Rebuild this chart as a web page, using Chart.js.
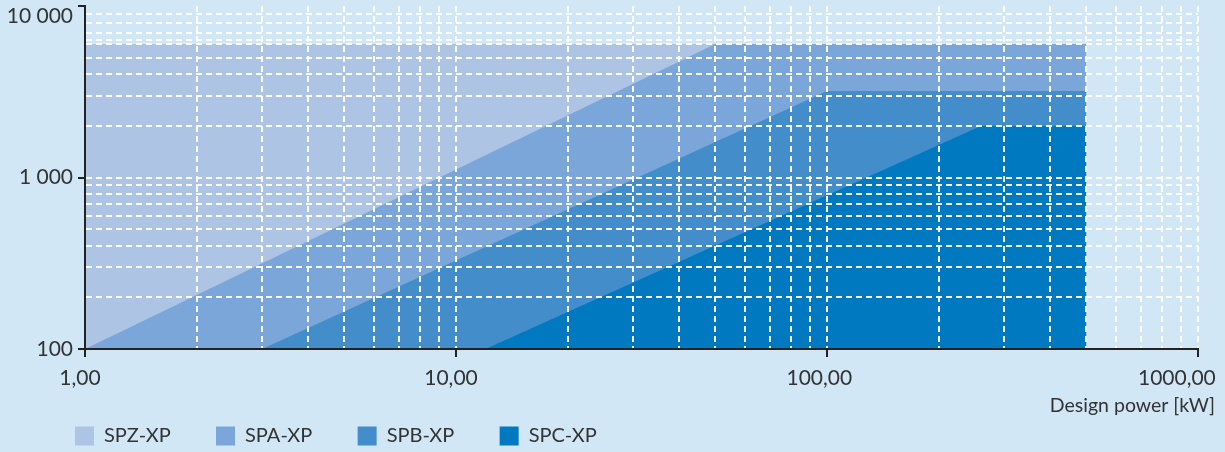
<!DOCTYPE html>
<html>
<head>
<meta charset="utf-8">
<script src="https://cdn.jsdelivr.net/npm/chart.js@4.4.1/dist/chart.umd.min.js"></script>
<style>
  html, body { margin: 0; padding: 0; background: #d1e7f6; }
  #wrap { position: relative; width: 1225px; height: 452px; }
</style>
</head>
<body>
<div id="wrap"><canvas id="c"></canvas></div>
<script>
// ---- data ----
const seriesNames = ['SPZ-XP', 'SPA-XP', 'SPB-XP', 'SPC-XP'];
const spzPower = [1, 500];
const spzFlow  = [6000, 6000];
const spaPower = [1, 50, 500];
const spaFlow  = [100, 6000, 6000];
const spbPower = [3, 100, 500];
const spbFlow  = [100, 3200, 3200];
const spcPower = [12, 260, 500];
const spcFlow  = [100, 2000, 2000];

const xGridValues = [1, 2, 3, 4, 5, 6, 7, 8, 9, 10, 20, 30, 40, 50, 60, 70, 80, 90,
                     100, 200, 300, 400, 500, 600, 700, 800, 900, 1000];
const xTickValues = [1, 10, 100, 1000];
const xTickLabels = ['1,00', '10,00', '100,00', '1000,00'];
const yGridValues = [100, 200, 300, 400, 500, 600, 700, 800, 900,
                     1000, 2000, 3000, 4000, 5000, 6000, 6300, 7000, 8000, 9000, 10000];
const yTickValues = [100, 1000, 10000];
const yTickLabels = ['100', '1 000', '10 000'];
const xAxisTitle = 'Design power [kW]';

// ---- styles ----
const seriesColors = ['#adc4e4', '#7ba6d9', '#448dcb', '#0079c1'];
const NB = '\u00a0';
const xLabelPad = [0, 0, 1, 6];      // trailing spaces to nudge labels left
const legendPad = 7;
const legendIndent = 65;
const TRANSPARENT = 'rgba(0,0,0,0)';
const GRID = 'rgba(255,255,255,0.95)';
const AXIS = '#222222';
const TEXT = '#333333';

const powers = [spzPower, spaPower, spbPower, spcPower];
const flows  = [spzFlow, spaFlow, spbFlow, spcFlow];

const legendIndentPlugin = {
  id: 'legendIndent',
  afterLayout(chart) {
    if (chart.legend) {
      chart.legend.left = legendIndent;
      if (chart.legend.adjustHitBoxes) chart.legend.adjustHitBoxes();
    }
  }
};

function build() {
  const datasets = seriesNames.map((name, i) => ({
    label: name,
    data: powers[i].map((p, j) => ({ x: p, y: flows[i][j] })),
    backgroundColor: seriesColors[i],
    borderColor: TRANSPARENT,
    borderWidth: 0,
    pointRadius: 0,
    tension: 0,
    fill: 'start',
    order: seriesNames.length - i
  }));

  new Chart(document.getElementById('c'), {
    type: 'line',
    data: { datasets },
    plugins: [legendIndentPlugin],
    options: {
      responsive: true,
      maintainAspectRatio: false,
      animation: false,
      events: [],
      layout: { padding: { top: 6, left: 0, right: 10, bottom: -4 } },
      plugins: {
        tooltip: { enabled: false },
        legend: {
          position: 'bottom',
          align: 'start',
          labels: {
            boxWidth: 19,
            boxHeight: 19,
            padding: 10,
            color: TEXT,
            font: { family: 'Lato', size: 20 },
            sort: (a, b) => a.datasetIndex - b.datasetIndex,
            generateLabels: (chart) =>
              Chart.defaults.plugins.legend.labels.generateLabels(chart)
                .map(it => Object.assign({}, it, { text: it.text + NB.repeat(legendPad) }))
          }
        },
        title: {
          display: true,
          text: xAxisTitle,
          position: 'bottom',
          align: 'end',
          weight: 500,
          color: TEXT,
          font: { family: 'Lato', size: 19.5, weight: 'normal', lineHeight: 1.1 },
          padding: { top: 0, bottom: 0 }
        }
      },
      scales: {
        x: {
          type: 'logarithmic',
          min: 1,
          max: 1000,
          position: 'bottom',
          afterBuildTicks: (s) => { s.ticks = xGridValues.map(v => ({ value: v, major: xTickValues.includes(v) })); },
          afterFit: (s) => { s.height = 45.5; s.paddingLeft = 0; s.paddingRight = 27; },
          grid: {
            z: 1,
            lineWidth: 2,
            color: (c) => (c.tick && c.tick.value === xGridValues[0]) ? TRANSPARENT : GRID,
            drawTicks: true,
            tickLength: 8,
            tickWidth: 2,
            tickBorderDash: [],
            tickColor: (c) => (c.tick && xTickValues.includes(c.tick.value)) ? AXIS : TRANSPARENT
          },
          border: { display: true, color: AXIS, width: 2, dash: [6, 4], z: 2 },
          ticks: {
            autoSkip: false,
            maxRotation: 0,
            minRotation: 0,
            padding: 9,
            labelOffset: -5,
            color: TEXT,
            font: { family: 'Lato', size: 21 },
            callback: (v) => {
              const k = xTickValues.indexOf(v);
              return k < 0 ? '' : xTickLabels[k] + NB.repeat(xLabelPad[k]);
            }
          }
        },
        y: {
          type: 'logarithmic',
          min: 100,
          max: 10000,
          position: 'left',
          afterBuildTicks: (s) => { s.ticks = yGridValues.map(v => ({ value: v, major: yTickValues.includes(v) })); },
          afterFit: (s) => { s.width = 85; s.paddingTop = 0; s.paddingBottom = 0; },
          grid: {
            z: 1,
            lineWidth: 2,
            color: (c) => (c.tick && (c.tick.value === yGridValues[0] || c.tick.value === yGridValues[yGridValues.length - 1])) ? TRANSPARENT : GRID,
            drawTicks: true,
            tickLength: 7,
            tickWidth: 2,
            tickBorderDash: [],
            tickColor: (c) => (c.tick && yTickValues.includes(c.tick.value)) ? AXIS : TRANSPARENT
          },
          border: { display: true, color: AXIS, width: 2, dash: [6, 4], z: 2 },
          ticks: {
            autoSkip: false,
            padding: 5,
            color: TEXT,
            font: { family: 'Lato', size: 21, lineHeight: 0.93 },
            callback: (v) => {
              const k = yTickValues.indexOf(v);
              if (k < 0) return '';
              return k === yTickValues.length - 1 ? ['', yTickLabels[k]] : yTickLabels[k];
            }
          }
        }
      }
    }
  });
}

if (document.fonts && document.fonts.load) {
  Promise.all([document.fonts.load('20px Lato'), document.fonts.load('21px Lato')])
    .then(build, build);
} else {
  build();
}
</script>
</body>
</html>
